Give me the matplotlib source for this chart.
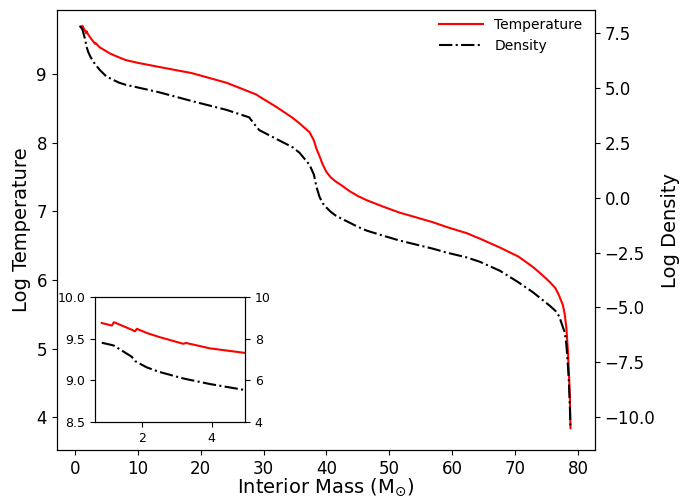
import matplotlib
matplotlib.use("Agg")
import matplotlib.pyplot as plt

# Interior mass (solar masses) and profiles
mass = [0.83, 1.12, 1.18, 1.69, 1.79, 1.84, 2.13, 2.5, 3.18, 3.26, 3.95, 4.96,
        5.5, 6.2, 7.0, 8.1, 10.0, 13.4, 18.6, 24.1, 27.7, 28.8, 29.3, 32.0,
        34.6, 35.7, 37.3, 38.0, 38.4, 38.9, 39.4, 40.0, 40.7, 41.5, 42.5, 43.7,
        45.0, 46.4, 48.9, 51.6, 56.9, 59.1, 62.3, 64.4, 67.6, 70.5, 72.8, 74.2, 75.5, 76.4,
        77.0, 77.6, 77.9, 78.15, 78.4, 78.55, 78.7, 78.8]
log_temp = [9.69, 9.66, 9.70, 9.61, 9.59, 9.62, 9.57, 9.52, 9.44, 9.45, 9.385, 9.33,
            9.30, 9.27, 9.24, 9.20, 9.16, 9.10, 9.01, 8.87, 8.74, 8.70, 8.67, 8.52,
            8.36, 8.28, 8.15, 8.03, 7.91, 7.80, 7.68, 7.57, 7.49, 7.43, 7.37, 7.29,
            7.22, 7.16, 7.07, 6.98, 6.84, 6.77, 6.68, 6.60, 6.47, 6.34, 6.19, 6.08, 5.97, 5.88,
            5.77, 5.63, 5.49, 5.30, 4.95, 4.65, 4.30, 3.84]
log_rho = [7.81, 7.70, 7.67, 7.14, 6.93, 6.88, 6.62, 6.40, 6.09, 6.06, 5.82, 5.53,
           5.45, 5.35, 5.24, 5.14, 5.02, 4.80, 4.40, 4.00, 3.66, 3.25, 3.08, 2.68,
           2.30, 2.05, 1.50, 1.05, 0.50, 0.03, -0.25, -0.45, -0.65, -0.82, -0.97, -1.14,
           -1.33, -1.50, -1.72, -1.95, -2.32, -2.50, -2.72, -2.92, -3.33, -3.85, -4.30, -4.62, -4.92, -5.15,
           -5.40, -5.90, -6.14, -6.70, -7.68, -8.40, -9.50, -10.50]

fig = plt.figure(figsize=(7, 4.98), dpi=100)
ax = fig.add_axes([0.081, 0.096, 0.769, 0.884])
ax2 = ax.twinx()

l1, = ax.plot(mass, log_temp, color="red", lw=1.5, label="Temperature")
l2, = ax2.plot(mass, log_rho, color="black", ls="-.", lw=1.5, label="Density")

ax.set_xlim(-2.9, 82.7)
ax.set_ylim(3.52, 9.93)
ax2.set_ylim(-11.5, 8.55)
ax.set_xlabel(r"Interior Mass (M$_{\odot}$)", fontsize=14, labelpad=-1)
ax.set_ylabel("Log Temperature", fontsize=14)
ax2.set_ylabel("Log Density", fontsize=14)
ax.tick_params(labelsize=12)
ax2.tick_params(labelsize=12)
ax.legend([l1, l2], ["Temperature", "Density"], loc="upper right",
          bbox_to_anchor=(1.0, 1.01), frameon=False, fontsize=10,
          handlelength=3.2, labelspacing=0.5)

# zoomed inset of the core
ins = fig.add_axes([0.136, 0.153, 0.214, 0.250])
ins2 = ins.twinx()
ins.plot(mass, log_temp, color="red", lw=1.5)
ins2.plot(mass, log_rho, color="black", ls="-.", lw=1.5)
ins.set_xlim(0.64, 4.96)
ins.set_ylim(8.5, 10.0)
ins2.set_ylim(4, 10)
ins.set_xticks([2, 4])
ins.set_yticks([8.5, 9.0, 9.5, 10.0])
ins2.set_yticks([4, 6, 8, 10])
ins.tick_params(labelsize=9)
ins2.tick_params(labelsize=9)

fig.savefig("out.png", dpi=100)
